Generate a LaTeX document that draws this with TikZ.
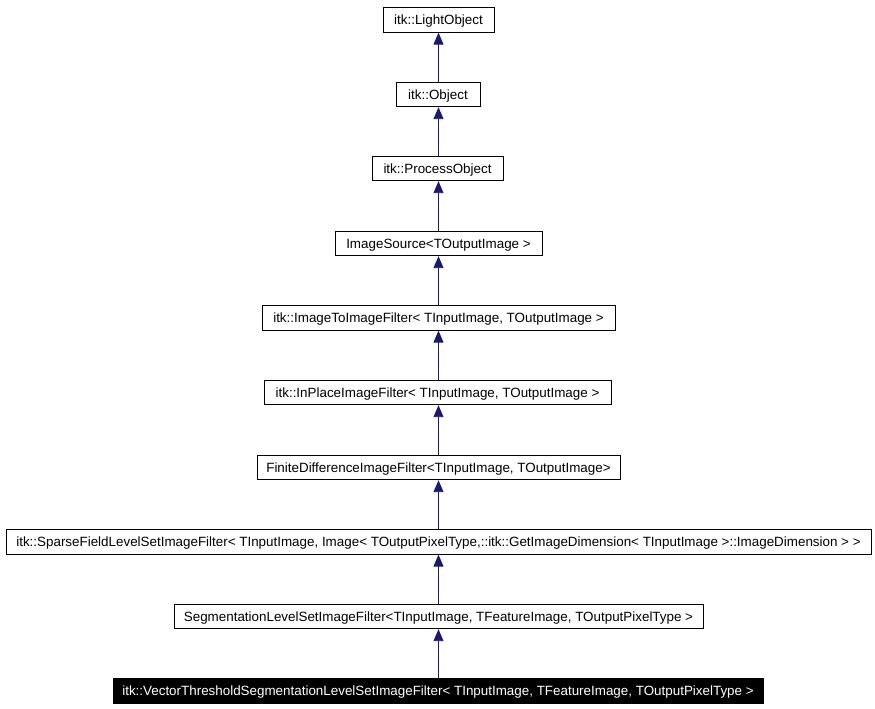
\documentclass[tikz,border=0pt]{standalone}
\usepackage{fontspec}
\setmainfont{Liberation Sans}
\usetikzlibrary{arrows.meta}
\definecolor{edgeblue}{HTML}{191970}
\begin{document}
\begin{tikzpicture}[x=1pt,y=-1pt,
  cls/.style={draw=black,line width=0.8pt,fill=white,inner sep=0pt,minimum height=24.5pt,text height=9.4pt,text depth=0pt,font=\fontsize{13.4}{14}\selectfont},
  cur/.style={cls,fill=black,text=white},
  inh/.style={draw=edgeblue,line width=0.9pt,-{Triangle[length=12pt,width=10pt]}}]
\useasboundingbox (0,0) rectangle (875,709);
\node[cls,minimum width=111pt] (n1) at (438.5,20) {itk::LightObject};
\node[cls,minimum width=84pt] (n2) at (438,94.5) {itk::Object};
\node[cls,minimum width=131pt] (n3) at (437.5,168.5) {itk::ProcessObject};
\node[cls,minimum width=207pt] (n4) at (438.5,243.5) {ImageSource<TOutputImage >};
\node[cls,minimum width=353pt] (n5) at (438.5,318) {itk::ImageToImageFilter< TInputImage, TOutputImage >};
\node[cls,minimum width=347pt] (n6) at (437.5,392.5) {itk::InPlaceImageFilter< TInputImage, TOutputImage >};
\node[cls,minimum width=363pt] (n7) at (438.5,467.5) {FiniteDifferenceImageFilter<TInputImage, TOutputImage>};
\node[cls,minimum width=865pt] (n8) at (438.5,542) {itk::SparseFieldLevelSetImageFilter< TInputImage, Image< TOutputPixelType,::itk::GetImageDimension< TInputImage >::ImageDimension > >};
\node[cls,minimum width=529pt] (n9) at (438.5,616.5) {SegmentationLevelSetImageFilter<TInputImage, TFeatureImage, TOutputPixelType >};
\node[cur,minimum width=650pt] (n10) at (438,691) {itk::VectorThresholdSegmentationLevelSetImageFilter< TInputImage, TFeatureImage, TOutputPixelType >};
\foreach \c/\p in {n2/n1,n3/n2,n4/n3,n5/n4,n6/n5,n7/n6,n8/n7,n9/n8,n10/n9}
  \draw[inh] (\c.north -| n1.south) -- (\p.south -| n1.south);
\end{tikzpicture}
\end{document}
